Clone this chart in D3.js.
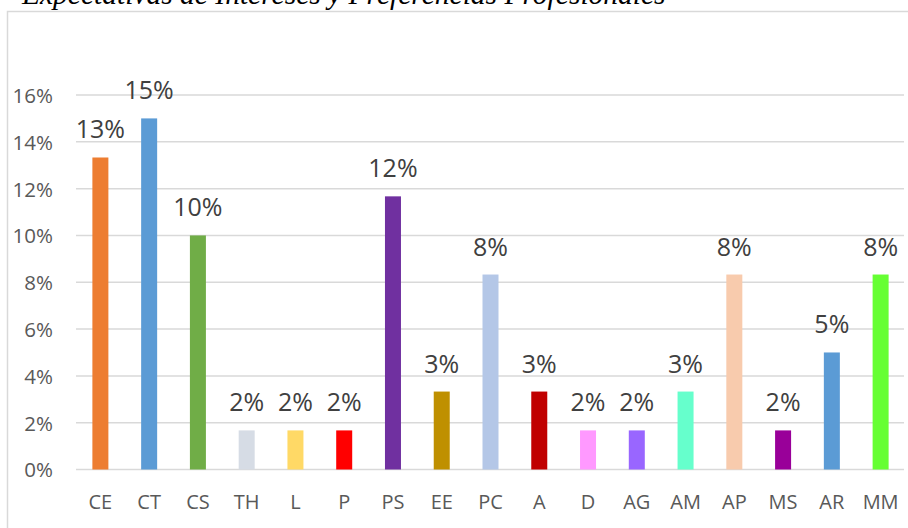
<!DOCTYPE html>
<html>
<head>
<meta charset="utf-8">
<script src="https://d3js.org/d3.v7.min.js"></script>
<style>
  body { margin: 0; background: #fff; }
  svg { display: block; }
</style>
</head>
<body>
<svg id="chart" width="908" height="528"></svg>
<script>
const title = 'Expectativas de Intereses y Preferencias Profesionales';

const categories = ['CE', 'CT', 'CS', 'TH', 'L', 'P', 'PS', 'EE', 'PC', 'A', 'D', 'AG', 'AM', 'AP', 'MS', 'AR', 'MM'];
const values = [0.1333, 0.15, 0.10, 0.0167, 0.0167, 0.0167, 0.1167, 0.0333, 0.0833, 0.0333, 0.0167, 0.0167, 0.0333, 0.0833, 0.0167, 0.05, 0.0833];
const barColors = ['#ED7D31', '#5B9BD5', '#70AD47', '#D6DCE5', '#FFD966', '#FF0000', '#7030A0', '#BF9000', '#B4C7E7',
  '#C00000', '#FF99FF', '#9966FF', '#66FFCC', '#F8CBAD', '#990099', '#5B9BD5', '#66FF33'];
const yTicks = [0, 0.02, 0.04, 0.06, 0.08, 0.10, 0.12, 0.14, 0.16];

const svg = d3.select('#chart');
const font = '"Open Sans", "Liberation Sans", Arial, sans-serif';

// chart frame
svg.append('rect')
  .attr('x', 7.5)
  .attr('y', 11.5)
  .attr('width', 920)
  .attr('height', 540)
  .attr('fill', 'white')
  .attr('stroke', '#D9D9D9')
  .attr('stroke-width', 1.5);

// title, cut by the top of the page like in the picture
svg.append('text')
  .attr('x', 22)
  .attr('y', 4)
  .attr('font-family', '"Liberation Serif", "Times New Roman", serif')
  .attr('font-style', 'italic')
  .attr('font-size', '29.5px')
  .attr('fill', 'black')
  .text(title);

const x = d3.scaleBand()
  .domain(categories)
  .range([76, 905])
  .paddingInner(0.672)
  .paddingOuter(0.336);

const y = d3.scaleLinear()
  .domain([0, 0.16])
  .range([469.5, 95]);

// gridlines
svg.append('g')
  .selectAll('line')
  .data(yTicks)
  .join('line')
  .attr('x1', 76)
  .attr('x2', 904)
  .attr('y1', d => y(d))
  .attr('y2', d => y(d))
  .attr('stroke', '#D9D9D9')
  .attr('stroke-width', 1.5);

// y axis labels
const yAxis = svg.append('g')
  .attr('transform', 'translate(53,0)')
  .call(d3.axisLeft(y).tickValues(yTicks).tickFormat(d3.format('.0%')).tickSize(0).tickPadding(0));
yAxis.select('.domain').remove();
yAxis.selectAll('text')
  .attr('font-family', font)
  .attr('font-size', '20.5px')
  .attr('fill', '#595959')
  .attr('dy', '0.36em');

// bars
const bw = 16;
svg.append('g')
  .selectAll('rect')
  .data(values)
  .join('rect')
  .attr('x', (d, i) => x(categories[i]) + x.bandwidth() / 2 - bw / 2)
  .attr('y', d => y(d))
  .attr('width', bw)
  .attr('height', d => y(0) - y(d))
  .attr('fill', (d, i) => barColors[i]);

// data labels
svg.append('g')
  .selectAll('text')
  .data(values)
  .join('text')
  .attr('x', (d, i) => x(categories[i]) + x.bandwidth() / 2)
  .attr('y', d => y(d) - 19)
  .attr('text-anchor', 'middle')
  .attr('font-family', font)
  .attr('font-size', '25px')
  .attr('fill', '#404040')
  .text(d => d3.format('.0%')(d));

// x axis labels
const xAxis = svg.append('g')
  .attr('transform', 'translate(0,' + 509 + ')')
  .call(d3.axisBottom(x).tickSize(0).tickPadding(0));
xAxis.select('.domain').remove();
xAxis.selectAll('text')
  .attr('font-family', font)
  .attr('font-size', '20px')
  .attr('fill', '#595959')
  .attr('dy', 0)
  .attr('y', 0);
</script>
</body>
</html>
